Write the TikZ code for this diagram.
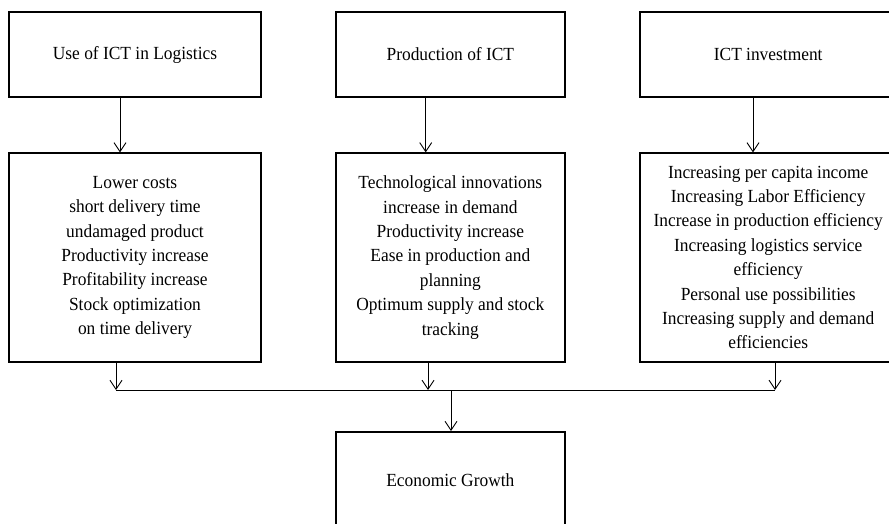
\documentclass[tikz,border=0pt]{standalone}
\usepackage{fontspec}
\setmainfont{Liberation Serif}[FakeStretch=0.94]
\usetikzlibrary{arrows.meta}
\tikzset{
  box/.style={draw=black, line width=1.8pt, align=center, inner sep=0pt,
    font=\fontsize{18.5}{24.4}\selectfont},
  arr/.style={draw=black, line width=0.9pt, -{Straight Barb[length=9pt,width=12pt,line width=0.9pt]}},
  bus/.style={draw=black, line width=0.9pt}
}
\begin{document}
\begin{tikzpicture}[x=1pt,y=-1pt]
\useasboundingbox (0,0) rectangle (889,524);
\clip (0,0) rectangle (889,524);
\fill[white] (0,0) rectangle (889,524);
% top row
\node[box, minimum width=251.4pt, minimum height=84.4pt] (t1) at (135,54.5) {Use of ICT in Logistics};
\node[box, minimum width=229.3pt, minimum height=84.4pt] (t2) at (450.35,54.5) {Production of ICT};
\node[box, minimum width=257pt, minimum height=84.4pt] (t3) at (768.2,54.5) {ICT investment};
% middle row
\node[box, minimum width=251.4pt, minimum height=208.4pt] (l1) at (135,257.5)
  {Lower costs\\short delivery time\\undamaged product\\Productivity increase\\Profitability increase\\Stock optimization\\on time delivery};
\node[box, minimum width=229.3pt, minimum height=208.4pt] (l2) at (450.35,257.5)
  {Technological innovations\\increase in demand\\Productivity increase\\Ease in production and\\planning\\Optimum supply and stock\\tracking};
\node[box, minimum width=257pt, minimum height=208.4pt] (l3) at (768.2,257.5)
  {Increasing per capita income\\Increasing Labor Efficiency\\Increase in production efficiency\\Increasing logistics service\\efficiency\\Personal use possibilities\\Increasing supply and demand\\efficiencies};
% bottom
\node[box, minimum width=229.3pt, minimum height=96pt] (eg) at (450.35,480) {Economic Growth};
% arrow positions
\coordinate (c1) at (120,0);
\coordinate (c2) at (425.7,0);
\coordinate (c3) at (753,0);
\coordinate (b1) at (116,390);
\coordinate (b2) at (428,390);
\coordinate (b3) at (775,390);
\coordinate (be) at (451,390);
% connectors
\draw[arr] (t1.south -| c1) -- (l1.north -| c1);
\draw[arr] (t2.south -| c2) -- (l2.north -| c2);
\draw[arr] (t3.south -| c3) -- (l3.north -| c3);
\draw[arr] (l1.south -| b1) -- (b1);
\draw[arr] (l2.south -| b2) -- (b2);
\draw[arr] (l3.south -| b3) -- (b3);
\draw[bus] (b1) -- (b3);
\draw[arr] (be) -- (eg.north -| be);
\end{tikzpicture}
\end{document}
